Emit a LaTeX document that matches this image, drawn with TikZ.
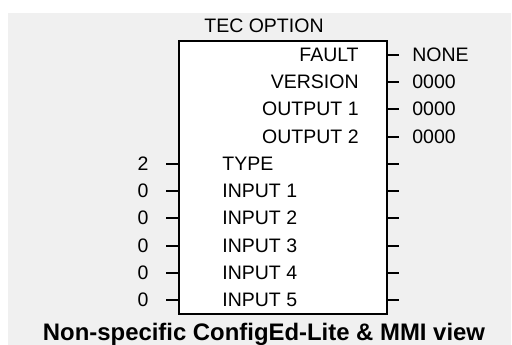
\documentclass[tikz,border=0pt]{standalone}
\usepackage{fontspec}
\setmainfont{Liberation Sans}
\usetikzlibrary{positioning}

\tikzset{
  lbl/.style={inner sep=0pt, font=\fontsize{11.1}{13}\selectfont},
  stub/.style={line width=0.6pt},
  thickstub/.style={line width=1.6pt}
}

\begin{document}
\begin{tikzpicture}[x=0.02cm, y=-0.02cm]
    % Background
    \useasboundingbox (0,0) rectangle (512,345);
    \fill[black!6] (8,13) rectangle (511,345);

    % Function block
    \node[draw, line width=1.1pt, fill=white, minimum width=4.16cm, minimum height=5.46cm, inner sep=0pt] (blk) at (283,177.5) {};
    \node[lbl] (title) at (264,26) {TEC OPTION};

    % Outputs
    \node[lbl, anchor=east] (fault) at (359,55) {FAULT};
    \node[lbl, anchor=east] (version) at (359,82) {VERSION};
    \node[lbl, anchor=east] (out1) at (359,109) {OUTPUT 1};
    \node[lbl, anchor=east] (out2) at (359,137) {OUTPUT 2};

    % Inputs
    \node[lbl, anchor=west] (type) at (222,164) {TYPE};
    \node[lbl, anchor=west] (in1) at (222,191) {INPUT 1};
    \node[lbl, anchor=west] (in2) at (222,218) {INPUT 2};
    \node[lbl, anchor=west] (in3) at (222,246) {INPUT 3};
    \node[lbl, anchor=west] (in4) at (222,273) {INPUT 4};
    \node[lbl, anchor=west] (in5) at (222,300) {INPUT 5};

    % Output values
    \node[lbl, anchor=west] (faultv) at (412,55) {NONE};
    \node[lbl, anchor=west] (versionv) at (412,82) {0000};
    \node[lbl, anchor=west] (out1v) at (412,109) {0000};
    \node[lbl, anchor=west] (out2v) at (412,137) {0000};

    % Input values
    \node[lbl] (typev) at (143,164) {2};
    \node[lbl] (in1v) at (143,191) {0};
    \node[lbl] (in2v) at (143,218) {0};
    \node[lbl] (in3v) at (143,246) {0};
    \node[lbl] (in4v) at (143,273) {0};
    \node[lbl] (in5v) at (143,300) {0};

    % Stubs on the right
    \foreach \n in {fault,version,out1,out2,in1,in2,in3,in4,in5} {
        \coordinate (r\n) at ([xshift=0.22cm]blk.east |- \n);
        \draw[thickstub] (blk.east |- \n) -- (r\n);
    }
    \coordinate (rtype) at ([xshift=0.22cm]blk.east |- type);
    \draw[stub] (blk.east |- type) -- (rtype);

    % Stubs on the left
    \foreach \n in {in1,in2,in3,in4,in5} {
        \coordinate (l\n) at ([xshift=-0.24cm]blk.west |- \n);
        \draw[thickstub] (l\n) -- (blk.west |- \n);
    }
    \coordinate (ltype) at ([xshift=-0.24cm]blk.west |- type);
    \draw[stub] (ltype) -- (blk.west |- type);

    % Caption
    \node[font=\fontsize{13.6}{16}\selectfont\bfseries, inner sep=0pt, anchor=base] (cap) at (264,340) {Non-specific ConfigEd-Lite \& MMI view};
\end{tikzpicture}
\end{document}
